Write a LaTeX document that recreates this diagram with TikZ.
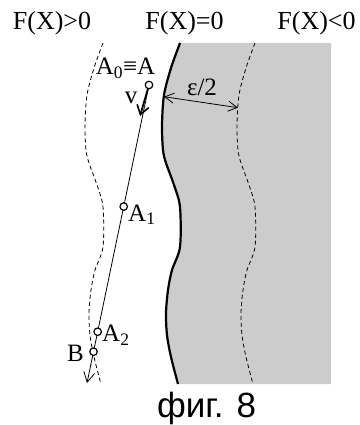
\documentclass[tikz,border=0pt]{standalone}
\usepackage{fontspec}
\setmainfont{Liberation Serif}
\newfontfamily\sansf{Liberation Sans}
\usetikzlibrary{arrows.meta,calc}
\begin{document}
\begin{tikzpicture}[x=1pt,y=-1pt,
  lbl/.style={inner sep=0pt,font=\fontsize{25}{28}\selectfont},
  toplbl/.style={inner sep=0pt,font=\fontsize{26}{30}\selectfont},
  pt/.style={circle,draw,fill=white,line width=1.2pt,inner sep=0pt,minimum size=7.5pt},
  thinline/.style={line width=0.8pt},
  dsh/.style={line width=0.8pt,dash pattern=on 4pt off 3pt},
  boundary/.style={line width=2.2pt},
  barb/.style={-{Straight Barb[length=10pt,width=11pt,line width=0.8pt]}},
]
\useasboundingbox (0,0) rectangle (359,425);
\def\curve{(180,43) (171,68) (164,95) (162,125) (163,150) (166,163) (174,185) (180,207) (180,247) (172,270) (168,290) (166,313) (167,335) (171,357) (178,384)}
% grey region
\fill[gray!40] plot[smooth] coordinates {\curve} -- (331,384) -- (331,43) -- cycle;
% boundary F(X)=0
\draw[boundary] plot[smooth] coordinates {\curve};
% dashed offsets
\draw[dsh,xshift=-77] plot[smooth] coordinates {\curve};
\draw[dsh,xshift=75] plot[smooth] coordinates {\curve};
% top labels
\node[toplbl] (fpos) at (52,23) {F(X)>0};
\node[toplbl] (fzero) at (184.5,23) {F(X)=0};
\node[toplbl] (fneg) at (316.5,23) {F(X)<0};
% trajectory
\coordinate (a) at (149,85);
\coordinate (tip) at (87,383);
\coordinate (a1) at ($(a)!0.408!(tip)$);
\coordinate (a2) at ($(a)!0.828!(tip)$);
\coordinate (b) at ($(a)!0.895!(tip)$);
\draw[thinline,barb] (a) -- (tip);
\coordinate (vend) at (140,116);
\draw[line width=1.8pt,-{Straight Barb[length=9pt,width=12pt,line width=1.6pt]}] (a) -- (vend);
\node[pt] (A) at (a) {};
\node[pt] (A1) at (a1) {};
\node[pt] (A2) at (a2) {};
\node[pt] (B) at (b) {};
% labels
\node[lbl,anchor=base] (lA) at (125.5,75) {A\textsubscript{0}≡A};
\node[lbl] (lv) at (131,98) {v};
\node[lbl,anchor=base west] (lA1) at (128,221) {A\textsubscript{1}};
\node[lbl,anchor=base west] (lA2) at (102,341.7) {A\textsubscript{2}};
\node[lbl,anchor=base] (lB) at (75.5,361.7) {B};
% epsilon/2
\coordinate (e1) at (164,96.7);
\coordinate (e2) at (238,107.7);
\draw[thinline,{Straight Barb[length=9pt,width=10pt,line width=0.8pt]}-{Straight Barb[length=9pt,width=10pt,line width=0.8pt]}] (e1) -- (e2);
\node[lbl] (leps) at (202,87.5) {ε/2};
% caption
\node[inner sep=0pt,anchor=base,font=\sansf\fontsize{35}{38}\selectfont] (cap) at (206.5,417) {фиг. 8};
\end{tikzpicture}
\end{document}
